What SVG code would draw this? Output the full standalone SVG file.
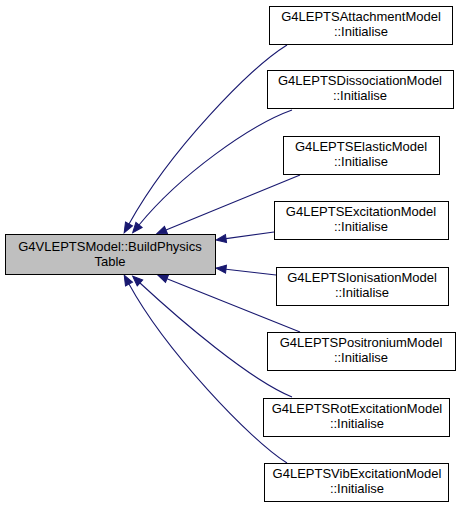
<svg xmlns="http://www.w3.org/2000/svg" width="464" height="508" viewBox="0 0 464 508">
<style>
.n rect{fill:#ffffff;stroke:#000000;stroke-width:1}
.n.main rect{fill:#bfbfbf}
.n text{font-family:"Liberation Sans",Arial,Helvetica,sans-serif;font-size:13px;fill:#000000;text-anchor:middle}
.e path{fill:none;stroke:#191970;stroke-width:1.1;marker-end:url(#ah)}
</style>
<defs>
<marker id="ah" markerUnits="userSpaceOnUse" viewBox="0 -5 12 10" refX="0" refY="0" markerWidth="12" markerHeight="10" orient="auto" overflow="visible">
<path d="M0,-4 L10,0 L0,4 Z" fill="#191970" stroke="#191970" stroke-width="1"/>
</marker>
</defs>
<rect width="464" height="508" fill="#ffffff"/>
<g id="connectors" class="e">
<path d="M287,45 C250,68 170,150 129,224"/>
<path d="M292,110 C250,125 180,175 139,225"/>
<path d="M300,175 L166,230"/>
<path d="M274,232 L226,238.6"/>
<path d="M276,275 L226,269.2"/>
<path d="M300,332 L167,278.7"/>
<path d="M292,397 C250,380 180,320 140,283"/>
<path d="M287,463 C250,440 165,350 129,284"/>
</g>
<g id="main" class="n main">
<rect x="5.5" y="234.5" width="210" height="40"/>
<text x="110" y="250.5">G4VLEPTSModel::BuildPhysics</text>
<text x="110" y="265.5">Table</text>
</g>
<g id="attachment" class="n">
<rect x="269.5" y="6.5" width="183" height="38"/>
<text x="361" y="21">G4LEPTSAttachmentModel</text>
<text x="361" y="36">::Initialise</text>
</g>
<g id="dissociation" class="n">
<rect x="267.5" y="70.5" width="186" height="38"/>
<text x="360" y="85">G4LEPTSDissociationModel</text>
<text x="360" y="100">::Initialise</text>
</g>
<g id="elastic" class="n">
<rect x="283.5" y="136.5" width="156" height="38"/>
<text x="361" y="151">G4LEPTSElasticModel</text>
<text x="361" y="166">::Initialise</text>
</g>
<g id="excitation" class="n">
<rect x="274.5" y="201.5" width="174" height="38"/>
<text x="361" y="216">G4LEPTSExcitationModel</text>
<text x="361" y="231">::Initialise</text>
</g>
<g id="ionisation" class="n">
<rect x="276.5" y="267.5" width="172" height="38"/>
<text x="362" y="282">G4LEPTSIonisationModel</text>
<text x="362" y="297">::Initialise</text>
</g>
<g id="positronium" class="n">
<rect x="267.5" y="332.5" width="188" height="38"/>
<text x="361" y="347">G4LEPTSPositroniumModel</text>
<text x="361" y="362">::Initialise</text>
</g>
<g id="rotexcitation" class="n">
<rect x="263.5" y="398.5" width="186" height="38"/>
<text x="357" y="413">G4LEPTSRotExcitationModel</text>
<text x="357" y="428">::Initialise</text>
</g>
<g id="vibexcitation" class="n">
<rect x="264.5" y="463.5" width="184" height="38"/>
<text x="357" y="478">G4LEPTSVibExcitationModel</text>
<text x="357" y="493">::Initialise</text>
</g>
</svg>
